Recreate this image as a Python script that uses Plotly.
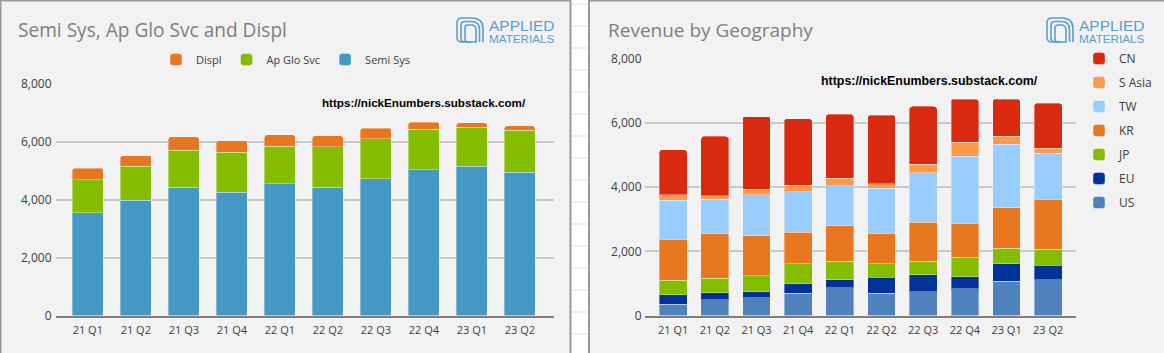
import plotly.graph_objects as go

W, H = 1164, 353

quarters = ["21 Q1", "21 Q2", "21 Q3", "21 Q4", "22 Q1", "22 Q2", "22 Q3", "22 Q4", "23 Q1", "23 Q2"]

# left chart, segment values
semi_sys = [3555, 3980, 4435, 4265, 4550, 4435, 4730, 5030, 5155, 4950]
ap_glo_svc = [1130, 1175, 1280, 1370, 1300, 1395, 1385, 1405, 1350, 1450]
displ = [410, 365, 455, 410, 390, 375, 355, 250, 150, 150]

# right chart, segment values
us = [350, 490, 550, 695, 860, 695, 735, 830, 1075, 1110]
eu = [290, 225, 195, 300, 260, 505, 530, 375, 540, 465]
jp = [455, 445, 490, 620, 570, 415, 425, 610, 475, 485]
kr = [1285, 1400, 1250, 985, 1110, 945, 1220, 1055, 1265, 1565]
tw = [1215, 1065, 1275, 1265, 1245, 1410, 1535, 2095, 1990, 1440]
s_asia = [175, 105, 175, 205, 240, 145, 280, 445, 240, 145]
cn = [1400, 1855, 2265, 2070, 1990, 2130, 1795, 1340, 1165, 1410]

y_ticks = [0, 2000, 4000, 6000, 8000]
sheet_lines = [4 + 22 * k for k in range(16)]

PANEL = "#f2f2f2"
TITLE = "#7f7f7f"
TEXT = "#404040"
LOGO = "#5aa0c6"
FONT = "Open Sans"


def px(x):
    return x / W


def py(y):
    return 1 - y / H


fig = go.Figure()

left_series = [("Semi Sys", semi_sys, "#4598c4"), ("Ap Glo Svc", ap_glo_svc, "#84bd00"), ("Displ", displ, "#e97722")]
right_series = [
    ("US", us, "#4f81bd"), ("EU", eu, "#003299"), ("JP", jp, "#84bd00"), ("KR", kr, "#e97722"),
    ("TW", tw, "#99ccff"), ("S Asia", s_asia, "#fb9a4a"), ("CN", cn, "#d9290f"),
]

for name, vals, col in left_series:
    fig.add_bar(x=quarters, y=vals, name=name, marker=dict(color=col, line=dict(color="rgba(255,255,255,0.35)", width=1)),
                xaxis="x", yaxis="y", legend="legend", width=0.646, hoverinfo="name+y")
for i, (name, vals, col) in enumerate(right_series):
    fig.add_bar(x=quarters, y=vals, name=name, marker=dict(color=col, line=dict(color="rgba(255,255,255,0.35)", width=1)),
                xaxis="x2", yaxis="y2", legend="legend2", legendgroup=name, legendrank=len(right_series) - i,
                width=0.665, hoverinfo="name+y")

shapes = [
    dict(type="rect", xref="paper", yref="paper", x0=px(0), x1=px(571), y0=0, y1=1, layer="below",
         fillcolor=PANEL, line=dict(width=0)),
    dict(type="rect", xref="paper", yref="paper", x0=px(588), x1=1, y0=0, y1=1, layer="below",
         fillcolor=PANEL, line=dict(width=0)),
]
for y in sheet_lines:
    shapes.append(dict(type="line", xref="paper", yref="paper", x0=px(571), x1=px(588), y0=py(y), y1=py(y),
                       layer="below", line=dict(color="#e2e2e2", width=1)))
for x0, x1, y0, y1 in [(0, 1.5, 0, H), (569.5, 571.5, 0, H), (588, 590, 0, H), (0, 571, 0, 1.5), (588, W, 0, 1.5)]:
    shapes.append(dict(type="rect", xref="paper", yref="paper", x0=px(x0), x1=px(x1), y0=py(y0), y1=py(y1),
                       layer="below", fillcolor="#999999", line=dict(width=0)))


def logo_path(ox, oy):
    """Concentric arches of the logo mark, in pixels from its top-left corner."""
    out = []
    for i, (l, t, r, b) in enumerate([(1, 1, 27, 25), (5, 4.5, 23.5, 25), (9, 8, 20, 25)]):
        big = 11 - i * 3
        small = 5 - i
        out.append(
            f"M{px(ox + r)},{py(oy + b)} L{px(ox + r)},{py(oy + t + big)} "
            f"Q{px(ox + r)},{py(oy + t)} {px(ox + r - big)},{py(oy + t)} "
            f"L{px(ox + l + small)},{py(oy + t)} Q{px(ox + l)},{py(oy + t)} {px(ox + l)},{py(oy + t + small)} "
            f"L{px(ox + l)},{py(oy + b - small)} Q{px(ox + l)},{py(oy + b)} {px(ox + l + small)},{py(oy + b)} "
            f"L{px(ox + l + 8 + i * 2)},{py(oy + b)}"
        )
    return out


annotations = []


def text(x, y, s, size, color, family=FONT, anchor="left"):
    annotations.append(dict(text=s, xref="paper", yref="paper", x=px(x), y=py(y), xanchor=anchor, yanchor="middle",
                            showarrow=False, font=dict(size=size, color=color, family=family)))


for ox, tx in [(456, 487), (1046, 1077)]:
    for d in logo_path(ox, 17):
        shapes.append(dict(type="path", xref="paper", yref="paper", path=d, line=dict(color=LOGO, width=1.6), layer="above"))
    text(tx, 26, "APPLIED", 15.5, LOGO, "Liberation Sans")
    text(tx, 38, "MATERIALS", 11.7, LOGO, "Liberation Sans")

text(16, 30, "Semi Sys, Ap Glo Svc and Displ", 19.1, TITLE)
text(606, 30, "Revenue by Geography", 19, TITLE)
text(320, 102, "<b>https://nickEnumbers.substack.com/</b>", 11.65, "#000000", "Liberation Sans")
text(819, 81, "<b>https://nickEnumbers.substack.com/</b>", 12.4, "#000000", "Liberation Sans")

axis_common = dict(showgrid=False, showline=True, linecolor="#7f7f7f", linewidth=2, ticks="", ticklabelstandoff=3,
                   tickfont=dict(size=11, color=TEXT, family=FONT), type="category")
yaxis_common = dict(range=[0, 8000], tickvals=y_ticks, tickformat=",d", showgrid=True, gridcolor="#c9c9c9",
                    zeroline=False, showline=False, ticks="", tickfont=dict(size=12, color=TEXT, family=FONT))

fig.update_layout(
    width=W, height=H, margin=dict(l=0, r=0, t=0, b=0, autoexpand=False), autosize=False,
    paper_bgcolor="#ffffff", plot_bgcolor="rgba(0,0,0,0)", barmode="stack", barcornerradius=3,
    font=dict(family=FONT, color=TEXT),
    xaxis=dict(axis_common, domain=[px(55.5), px(554)], range=[-0.673, 9.71], anchor="y"),
    yaxis=dict(yaxis_common, domain=[py(315.5), py(84)], gridwidth=2, anchor="x", ticklabelstandoff=3),
    xaxis2=dict(axis_common, domain=[px(644.6), px(1075.7)], range=[-0.686, 9.66], anchor="y2"),
    yaxis2=dict(yaxis_common, domain=[py(315.5), py(59)], gridwidth=1.5, anchor="x2", ticklabelstandoff=2),
    legend=dict(orientation="h", x=px(156), y=py(45), xanchor="left", yanchor="top", traceorder="reversed",
                font=dict(size=11, color=TEXT, family=FONT), bgcolor="rgba(0,0,0,0)"),
    legend2=dict(orientation="v", x=px(1079), y=py(44), xanchor="left", yanchor="top", traceorder="grouped",
                 tracegroupgap=5, font=dict(size=12, color=TEXT, family=FONT), bgcolor="rgba(0,0,0,0)"),
    shapes=shapes, annotations=annotations, showlegend=True,
)

fig.write_html("out.html", config={"displayModeBar": False},
               post_script="document.body.style.margin='0';document.body.style.overflow='hidden';")
